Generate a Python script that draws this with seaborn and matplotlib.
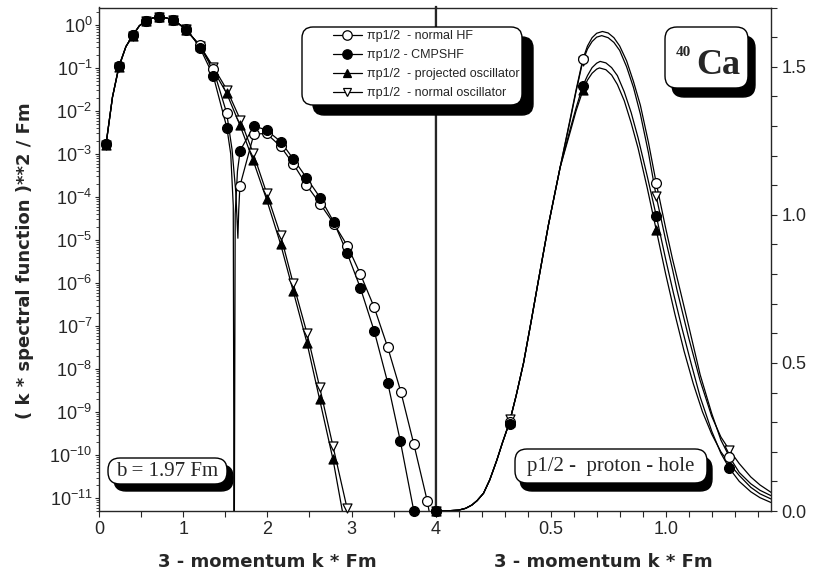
import numpy as np
import seaborn as sns
import matplotlib.pyplot as plt
from matplotlib.lines import Line2D
from matplotlib.patches import FancyBboxPatch
from matplotlib.transforms import IdentityTransform
from matplotlib.ticker import LogLocator, MultipleLocator, NullFormatter, FixedLocator

W, H = 817, 577

# ---- left panel (log scale), k in 1/Fm ----
k_hf = [0.083, 0.237, 0.40, 0.558, 0.716, 0.875, 1.033, 1.199, 1.357, 1.516, 1.674, 1.84,
        1.99, 2.157, 2.31, 2.465, 2.63, 2.79, 2.95, 3.106, 3.27, 3.43, 3.585, 3.74, 3.90]
v_hf = [1.7e-3, 0.112, 0.58, 1.27, 1.55, 1.33, 0.81, 0.34, 0.095, 9.1e-3, 1.8e-4, 2.9e-3,
        3.0e-3, 1.5e-3, 5.8e-4, 1.9e-4, 6.8e-5, 2.4e-5, 7.4e-6, 1.6e-6, 2.7e-7, 3.2e-8, 3.0e-9, 1.8e-10, 8.5e-12]

k_cm = [0.083, 0.237, 0.40, 0.558, 0.716, 0.875, 1.033, 1.199, 1.357, 1.519, 1.677, 1.84,
        1.99, 2.157, 2.31, 2.465, 2.63, 2.79, 2.947, 3.106, 3.27, 3.43, 3.58, 3.74]
v_cm = [1.7e-3, 0.111, 0.575, 1.26, 1.53, 1.31, 0.766, 0.295, 0.066, 4.1e-3, 1.2e-3, 4.5e-3,
        3.6e-3, 1.95e-3, 7.6e-4, 2.8e-4, 9.5e-5, 2.6e-5, 5.0e-6, 7.6e-7, 7.6e-8, 4.8e-9, 2.1e-10, 5e-12]

k_po = [0.083, 0.237, 0.40, 0.558, 0.716, 0.875, 1.033, 1.199, 1.357, 1.516, 1.674, 1.83,
        1.99, 2.157, 2.306, 2.47, 2.62, 2.78]
v_po = [1.6e-3, 0.105, 0.56, 1.24, 1.50, 1.30, 0.78, 0.32, 0.09, 0.026, 4.7e-3, 7.2e-4,
        8.9e-5, 8.1e-6, 6.6e-7, 4.1e-8, 2.0e-9, 7.9e-11]

k_no = [0.083, 0.237, 0.40, 0.558, 0.716, 0.875, 1.033, 1.199, 1.357, 1.52, 1.68, 1.83,
        1.99, 2.157, 2.306, 2.47, 2.62, 2.78, 2.947]
v_no = [1.6e-3, 0.105, 0.56, 1.24, 1.50, 1.30, 0.79, 0.33, 0.107, 0.031, 6.2e-3, 1.07e-3,
        1.26e-4, 1.3e-5, 1.0e-6, 6.9e-8, 3.9e-9, 1.6e-10, 5.8e-12]

# extra curve points (between markers)
k_peak = [0.16, 0.32, 0.48, 0.64, 0.80, 0.955, 1.115]
v_peak = [0.021, 0.315, 0.96, 1.46, 1.46, 1.04, 0.51]
k_hf_dip = [1.58, 1.625, 1.65, 1.66, 3.93]
v_hf_dip = [1.3e-3, 1.3e-4, 1.1e-5, 5e-5, 4e-12]
k_cm_dip = [1.565, 1.595, 1.606, 1.618, 1.645]
v_cm_dip = [1.0e-3, 6.3e-5, 1e-13, 4e-5, 4e-4]
k_po_end = [2.90]
v_po_end = [4e-12]

# ---- right panel (linear), k in 1/Fm ----
k_rise = [0, 0.05, 0.10, 0.13, 0.157, 0.18, 0.208, 0.235, 0.266, 0.29, 0.321, 0.35,
          0.382, 0.415, 0.447, 0.49, 0.541]
v_rise = [0, 0.0005, 0.003, 0.009, 0.02, 0.035, 0.06, 0.105, 0.172, 0.23, 0.30, 0.39,
          0.50, 0.64, 0.78, 0.965, 1.16]

k_hf_r = [0.585, 0.61, 0.64, 0.66, 0.68, 0.70, 0.725, 0.75, 0.775, 0.80, 0.83, 0.86, 0.89,
          0.925, 0.959, 1.00, 1.03, 1.063, 1.10, 1.15, 1.20, 1.24, 1.277, 1.32, 1.37, 1.41, 1.46]
v_hf_r = [1.325, 1.42, 1.526, 1.57, 1.598, 1.613, 1.619, 1.614, 1.598, 1.57, 1.52, 1.45, 1.37,
          1.245, 1.107, 0.955, 0.85, 0.745, 0.625, 0.46, 0.33, 0.24, 0.183, 0.13, 0.092, 0.07, 0.051]
k_no_r = [0.585, 0.61, 0.64, 0.66, 0.68, 0.70, 0.722, 0.75, 0.775, 0.80, 0.83, 0.86, 0.89,
          0.925, 0.959, 1.00, 1.03, 1.049, 1.10, 1.15, 1.20, 1.24, 1.277, 1.32, 1.37, 1.41, 1.46]
v_no_r = [1.32, 1.415, 1.52, 1.56, 1.585, 1.600, 1.605, 1.598, 1.582, 1.555, 1.50, 1.43, 1.34,
          1.21, 1.062, 0.915, 0.815, 0.747, 0.585, 0.44, 0.32, 0.25, 0.206, 0.16, 0.115, 0.088, 0.062]
k_cm_r = [0.585, 0.61, 0.64, 0.66, 0.68, 0.70, 0.715, 0.74, 0.765, 0.79, 0.82, 0.85, 0.88,
          0.92, 0.959, 1.00, 1.034, 1.07, 1.11, 1.15, 1.20, 1.24, 1.277, 1.32, 1.37, 1.41, 1.46]
v_cm_r = [1.29, 1.36, 1.436, 1.47, 1.497, 1.512, 1.518, 1.513, 1.497, 1.47, 1.415, 1.345, 1.26,
          1.13, 0.997, 0.85, 0.735, 0.62, 0.50, 0.385, 0.27, 0.195, 0.144, 0.10, 0.065, 0.045, 0.028]
k_po_r = [0.585, 0.61, 0.64, 0.66, 0.68, 0.70, 0.712, 0.74, 0.765, 0.79, 0.82, 0.85, 0.88,
          0.92, 0.959, 1.00, 1.04, 1.08, 1.12, 1.16, 1.20, 1.24, 1.277, 1.32, 1.37, 1.41, 1.46]
v_po_r = [1.28, 1.35, 1.42, 1.455, 1.478, 1.492, 1.496, 1.49, 1.472, 1.44, 1.385, 1.31, 1.225,
          1.09, 0.949, 0.80, 0.665, 0.54, 0.43, 0.335, 0.26, 0.20, 0.16, 0.12, 0.08, 0.058, 0.040]

k_mark_r = [0, 0.321, 0.64, 0.959, 1.277]
m_hf_r = [0, 0.30, 1.526, 1.107, 0.183]
m_cm_r = [0, 0.295, 1.436, 0.997, 0.144]
m_po_r = [0, 0.30, 1.42, 0.949, 0.16]
m_no_r = [0, 0.31, 1.52, 1.062, 0.206]

labels = ["\u03c0p1/2  - normal HF", "\u03c0p1/2 - CMPSHF",
          "\u03c0p1/2  - projected oscillator", "\u03c0p1/2  - normal oscillator"]


def merged(*pairs):
    k = np.concatenate([np.asarray(p[0], float) for p in pairs])
    v = np.concatenate([np.asarray(p[1], float) for p in pairs])
    o = np.argsort(k, kind="stable")
    return k[o], v[o]


sns.set_style("ticks")
plt.rcParams['font.family'] = ['Liberation Sans', 'DejaVu Sans']
plt.rcParams['mathtext.default'] = 'regular'
plt.rcParams['axes.linewidth'] = 1.0

fig = plt.figure(figsize=(W / 100, H / 100), dpi=100)
x_div = 435.7
ax_l = fig.add_axes([99 / W, 1 - 511 / H, (x_div - 99) / W, (511 - 7.5) / H])
ax_r = fig.add_axes([x_div / W, 1 - 511 / H, (771 - x_div) / W, (511 - 7.5) / H])

lw = 0.9
styles = {
    'hf': dict(marker='o', color='white', s=50),
    'cm': dict(marker='o', color='black', s=50),
    'po': dict(marker='^', color='black', s=42),
    'no': dict(marker='v', color='white', s=42),
}

# left panel
ax_l.set_yscale('log')
left = [
    ('no', merged((k_no, v_no), (k_peak, v_peak)), (k_no, v_no), 3),
    ('po', merged((k_po, v_po), (k_peak, v_peak), (k_po_end, v_po_end)), (k_po, v_po), 3.1),
    ('hf', merged((k_hf, v_hf), (k_peak, v_peak), (k_hf_dip, v_hf_dip)), (k_hf, v_hf), 3.2),
    ('cm', merged((k_cm, v_cm), (k_peak, v_peak), (k_cm_dip, v_cm_dip)), (k_cm, v_cm), 3.3),
]
for key, (lk, lv), (mk, mv), z in left:
    sns.lineplot(x=lk, y=lv, ax=ax_l, color='black', linewidth=lw, sort=False,
                 estimator=None, zorder=2)
    sns.scatterplot(x=mk, y=mv, ax=ax_l, edgecolor='black', linewidth=lw,
                    zorder=z, clip_on=False, legend=False, **styles[key])

ax_l.set_xlim(0, 4)
ax_l.set_ylim(5.0e-12, 2.55)
ax_l.xaxis.set_major_locator(MultipleLocator(1))
ax_l.xaxis.set_minor_locator(MultipleLocator(0.5))
ax_l.yaxis.set_major_locator(LogLocator(base=10, numticks=30))
ax_l.yaxis.set_minor_locator(LogLocator(base=10, subs=np.arange(2, 10), numticks=30))
ax_l.yaxis.set_minor_formatter(NullFormatter())
ax_l.tick_params(axis='x', which='both', direction='out', length=4.3, width=0.8,
                 labelsize=13, pad=3)
ax_l.tick_params(axis='y', which='major', direction='out', length=3.2, width=0.8,
                 labelsize=13, pad=1.5)
ax_l.tick_params(axis='y', which='minor', direction='out', length=2.2, width=0.6)
ax_l.spines['right'].set_linewidth(1.6)
ax_l.set_xlabel('')
ax_l.set_ylabel('')

# right panel
right = [
    ('no', merged((k_rise, v_rise), (k_no_r, v_no_r)), m_no_r, 3),
    ('po', merged((k_rise, v_rise), (k_po_r, v_po_r)), m_po_r, 3.1),
    ('hf', merged((k_rise, v_rise), (k_hf_r, v_hf_r)), m_hf_r, 3.2),
    ('cm', merged((k_rise, v_rise), (k_cm_r, v_cm_r)), m_cm_r, 3.3),
]
for key, (lk, lv), mv, z in right:
    sns.lineplot(x=lk, y=lv, ax=ax_r, color='black', linewidth=lw, sort=False,
                 estimator=None, zorder=2)
    sns.scatterplot(x=k_mark_r, y=mv, ax=ax_r, edgecolor='black', linewidth=lw,
                    zorder=z, clip_on=False, legend=False, **styles[key])

ax_r.set_xlim(0, 1.458)
ax_r.set_ylim(0, 1.70)
ax_r.xaxis.set_major_locator(FixedLocator([0.5, 1.0]))
ax_r.xaxis.set_minor_locator(MultipleLocator(0.1))
ax_r.set_xticklabels(['0.5', '1.0'])
ax_r.yaxis.tick_right()
ax_r.yaxis.set_minor_locator(MultipleLocator(0.1))
ax_r.set_yticks([0, 0.5, 1.0, 1.5], ['0.0', '0.5', '1.0', '1.5'])
ax_r.tick_params(axis='x', which='both', direction='out', length=4.3, width=0.8,
                 labelsize=13, pad=3)
ax_r.tick_params(axis='y', which='both', direction='out', length=4.3, width=0.8,
                 labelsize=13, pad=3)
ax_r.spines['left'].set_linewidth(1.6)
ax_r.set_xlabel('')
ax_r.set_ylabel('')

# axis titles
fig.text(25 / W, 1 - 261 / H, '( k * spectral function )**2 / Fm', rotation=90,
         fontsize=13, fontweight='bold', family='DejaVu Sans', ha='center', va='center')
for xc in (267, 603):
    fig.text(xc / W, 1 - 562 / H, '3 - momentum k * Fm', fontsize=13,
             fontweight='bold', family='DejaVu Sans', ha='center', va='center')


def shadow_box(x0, y0, x1, y1, r, dx, dy):
    for (ox, oy), fc, z in [((dx, dy), 'black', 1.5), ((0, 0), 'white', 1.6)]:
        p = FancyBboxPatch((x0 + ox, H - y1 - oy), x1 - x0, y1 - y0,
                           boxstyle=f"round,pad=0,rounding_size={r}",
                           fc=fc, ec='black', lw=1.0, transform=IdentityTransform(),
                           zorder=z)
        fig.add_artist(p)


# legend
shadow_box(302, 27, 522, 105, 11, 11, 10)
handles = [
    Line2D([], [], color='black', lw=lw, marker='o', mfc='white', mec='black', ms=6.8, mew=lw),
    Line2D([], [], color='black', lw=lw, marker='o', mfc='black', mec='black', ms=6.8, mew=lw),
    Line2D([], [], color='black', lw=lw, marker='^', mfc='black', mec='black', ms=6.2, mew=lw),
    Line2D([], [], color='black', lw=lw, marker='v', mfc='white', mec='black', ms=6.2, mew=lw),
]
fig.legend(handles, labels, loc='upper left', bbox_to_anchor=(333 / W, 1 - 30 / H),
           frameon=False, fontsize=9, handlelength=2.3, handletextpad=0.4,
           labelspacing=0.56, borderpad=0, borderaxespad=0)

# annotation boxes
shadow_box(665, 27, 748, 88, 12, 7, 9)
fig.text(676 / W, 1 - 52 / H, '40', fontsize=11, fontweight='bold',
         family='Liberation Serif', ha='left', va='center', zorder=6)
fig.text(718 / W, 1 - 65 / H, 'Ca', fontsize=26, fontweight='bold',
         family='Liberation Serif', ha='center', va='center', zorder=6)

shadow_box(108, 458, 227, 484, 12, 6, 7)
fig.text(167.5 / W, 1 - 471 / H, 'b = 1.97 Fm', fontsize=15,
         family='Liberation Serif', ha='center', va='center', zorder=6)

shadow_box(515, 449, 707, 483, 12, 5, 8)
fig.text(611 / W, 1 - 466 / H, 'p1/2 -  proton - hole', fontsize=15,
         family='Liberation Serif', ha='center', va='center', zorder=6)

fig.savefig('out.png', dpi=100)
